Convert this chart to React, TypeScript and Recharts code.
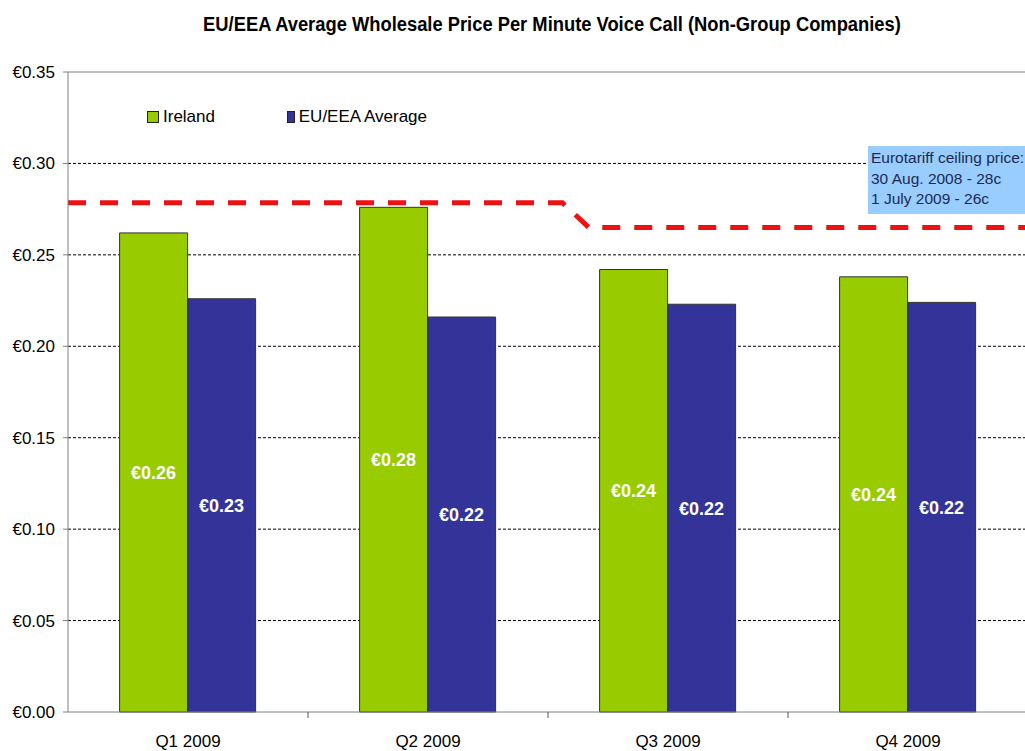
import React from 'react';
import {
  ComposedChart, Bar, Line, XAxis, YAxis, CartesianGrid, LabelList, ReferenceLine,
} from 'recharts';

const categories = ['Q1 2009', 'Q2 2009', 'Q3 2009', 'Q4 2009'];
const irelandValues = [0.262, 0.276, 0.242, 0.238];
const euValues = [0.226, 0.216, 0.223, 0.224];
const yTicks = [0, 0.05, 0.1, 0.15, 0.2, 0.25, 0.3, 0.35];
const gridValues = [0.05, 0.1, 0.15, 0.2, 0.25, 0.3];
// Eurotariff ceiling dashed line: position along category axis (0..4) and value
const ceilingX = [0, 2.06, 2.17, 4];
const ceilingY = [0.2785, 0.2785, 0.265, 0.265];

const series = [
  { key: 'ireland', name: 'Ireland', color: '#99CC00' },
  { key: 'eu', name: 'EU/EEA Average', color: '#333399' },
];

const title = 'EU/EEA Average Wholesale Price Per Minute Voice Call (Non-Group Companies)';
const noteLines = ['Eurotariff ceiling price:', '30 Aug. 2008 - 28c', '1 July 2009 - 26c'];

const data = categories.map((c, i) => ({ category: c, ireland: irelandValues[i], eu: euValues[i] }));
const ceilingData = ceilingX.map((x, i) => ({ x, y: ceilingY[i] }));

const FONT = "'Liberation Sans', Arial, sans-serif";
const fmt = (v: number) => '\u20AC' + Number(v).toFixed(2);

const TICK_SIZE = 6;
const TICK_MARGIN = 17;

const CategoryTick = (props: any) => {
  const { x, y, payload, index } = props;
  const half = payload && typeof payload.offset === 'number' && payload.offset > 0 ? payload.offset : 120;
  const axisY = y - TICK_SIZE - TICK_MARGIN;
  const bx = x + half;
  return (
    <g>
      {index < categories.length - 1 && (
        <line x1={bx} x2={bx} y1={axisY} y2={axisY + TICK_SIZE} stroke="#555" strokeWidth={1} />
      )}
      <text x={x} y={y} dy="0.71em" textAnchor="middle" fill="#000" fontSize={17} fontFamily={FONT}>
        {payload.value}
      </text>
    </g>
  );
};

export default function App() {
  return (
    <div style={{ position: 'absolute', left: 0, top: 0, width: 1025, height: 751, overflow: 'hidden', background: '#fff' }}>
      <div style={{ position: 'absolute', left: 0, top: 13, width: 1104, textAlign: 'center', fontFamily: FONT, fontWeight: 'bold', fontSize: 20, color: '#000', whiteSpace: 'nowrap', transform: 'scaleX(0.917)', transformOrigin: '552px 0' }}>
        {title}
      </div>
      <div style={{ position: 'absolute', top: 0, left: 0 }}>
        <ComposedChart width={1030} height={751} data={data} margin={{ top: 72, right: 2, left: 0, bottom: 0 }} barCategoryGap="21.5%" barGap={0}>
          <CartesianGrid vertical={false} stroke="#000" strokeDasharray="3 2" horizontalValues={gridValues} />
          <XAxis xAxisId="num" type="number" dataKey="x" domain={[0, 4]} allowDataOverflow hide />
          <XAxis xAxisId="cat" dataKey="category" height={39} tickLine={false} axisLine={{ stroke: '#808080' }} tickSize={TICK_SIZE} tickMargin={TICK_MARGIN} tick={<CategoryTick />} interval={0} />
          <YAxis domain={[0, 0.35]} ticks={yTicks} tickFormatter={fmt} width={68} tickSize={5} tickMargin={8} axisLine={{ stroke: '#808080' }} tickLine={{ stroke: '#808080' }} tick={{ fill: '#000', fontSize: 17, fontFamily: FONT }} interval={0} />
          <ReferenceLine y={0.35} xAxisId="cat" stroke="#808080" strokeWidth={1} ifOverflow="extendDomain" />
          {series.map((s) => (
            <Bar key={s.key} xAxisId="cat" dataKey={s.key} name={s.name} fill={s.color} stroke="#333" strokeWidth={1} isAnimationActive={false}>
              <LabelList dataKey={s.key} position="center" formatter={fmt} fill="#fff" fontSize={18} fontWeight="bold" fontFamily={FONT} />
            </Bar>
          ))}
          <Line xAxisId="num" data={ceilingData} dataKey="y" type="linear" stroke="#EE1111" strokeWidth={5} strokeDasharray="18 14" dot={false} activeDot={false} legendType="none" isAnimationActive={false} />
        </ComposedChart>
      </div>
      <div style={{ position: 'absolute', top: 107, left: 147, display: 'flex', fontFamily: FONT, fontSize: 17, color: '#000' }}>
        {series.map((s) => (
          <div key={s.key} style={{ width: 140, display: 'flex', alignItems: 'center', whiteSpace: 'nowrap' }}>
            <span style={{ width: 10, height: 10, background: s.color, border: '1px solid #222', marginRight: 4, display: 'inline-block' }} />
            <span>{s.name}</span>
          </div>
        ))}
      </div>
      <div style={{ position: 'absolute', left: 868, top: 146, width: 170, height: 68, background: '#99CCFF', color: '#1C2B4F', fontFamily: FONT, fontSize: 15.5, lineHeight: '20.5px', padding: '2px 0 0 3px', boxSizing: 'border-box', whiteSpace: 'nowrap' }}>
        {noteLines.map((l) => <div key={l}>{l}</div>)}
      </div>
    </div>
  );
}
